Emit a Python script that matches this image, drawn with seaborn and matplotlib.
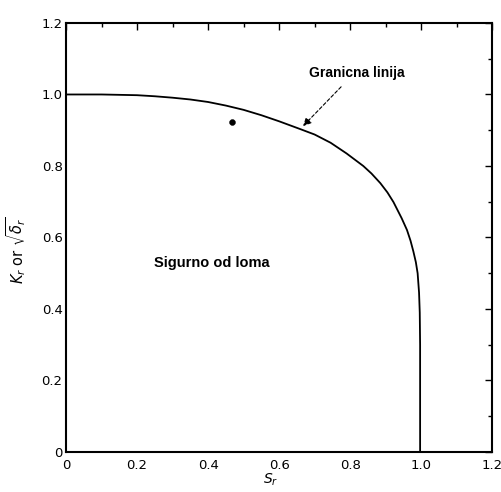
import pandas as pd
import matplotlib
matplotlib.use("Agg")
import matplotlib.pyplot as plt
import seaborn as sns

# --- podaci ocitani sa slike ---
sr = [0.0, 0.1, 0.2, 0.25, 0.3, 0.35, 0.4, 0.45, 0.5, 0.55, 0.6, 0.66,
      0.7, 0.745, 0.79, 0.837, 0.86, 0.885, 0.905, 0.922, 0.945, 0.96,
      0.97, 0.978, 0.985, 0.99, 0.994, 0.996, 0.997, 0.997]
kr = [1.0, 1.0, 0.998, 0.995, 0.991, 0.986, 0.979, 0.969, 0.957, 0.942,
      0.925, 0.903, 0.888, 0.865, 0.835, 0.800, 0.779, 0.752, 0.726, 0.699,
      0.654, 0.621, 0.591, 0.561, 0.531, 0.50, 0.446, 0.39, 0.3, 0.0]

tocka_sr = [0.468]
tocka_kr = [0.923]

tick_vals = [0, 0.2, 0.4, 0.6, 0.8, 1.0, 1.2]
tick_labels = ["0", "0.2", "0.4", "0.6", "0.8", "1.0", "1.2"]

sns.set_theme(style="white")
plt.rcParams['font.family'] = ['DejaVu Sans']
plt.rcParams['text.color'] = 'black'

df = pd.DataFrame({"Sr": sr, "Kr": kr})

fig = plt.figure(figsize=(5.02, 4.92), dpi=100)
ax = fig.add_axes([0.1315, 0.0813, 0.849, 0.872])

sns.lineplot(data=df, x="Sr", y="Kr", sort=False, estimator=None,
             color="black", linewidth=1.3, ax=ax)
sns.scatterplot(x=tocka_sr, y=tocka_kr, color="black", s=18,
                edgecolor="black", ax=ax)

ax.set_xlim(0, 1.2)
ax.set_ylim(0, 1.2)
ax.set_xticks(tick_vals)
ax.set_xticklabels(tick_labels)
ax.set_yticks(tick_vals)
ax.set_yticklabels(tick_labels)
ax.set_xticks([0.1, 0.3, 0.5, 0.7, 0.9, 1.1], minor=True)
ax.set_yticks([0.1, 0.3, 0.5, 0.7, 0.9, 1.1], minor=True)

ax.tick_params(which="both", direction="in", top=True, right=True,
               colors="black", width=1.0)
ax.tick_params(which="major", length=5, labelsize=9.5)
ax.tick_params(which="minor", length=3)
ax.tick_params(axis="y", which="major", pad=2.5)
ax.tick_params(axis="x", which="major", pad=5)

for s in ax.spines.values():
    s.set_color("black")
    s.set_linewidth(1.5)

ax.set_xlabel(r"$S_r$", fontsize=10, color="black")
ax.xaxis.set_label_coords(0.48, -0.045)
ax.set_ylabel(r"$K_r$ or $\sqrt{\delta_r}$", fontsize=10.5, color="black")
ax.yaxis.set_label_coords(-0.09, 0.47)

ax.text(0.82, 1.06, "Granicna linija", family=["Liberation Sans", "DejaVu Sans"],
        fontsize=10, fontweight="bold", ha="center", va="center", color="black")
ax.text(0.248, 0.529, "Sigurno od loma", family=["Liberation Sans", "DejaVu Sans"],
        fontsize=10.5, fontweight="bold", ha="left", va="center", color="black")

ax.annotate("", xy=(0.662, 0.906), xytext=(0.78, 1.027),
            arrowprops=dict(arrowstyle="-|>", color="black", lw=0.8,
                            linestyle=(0, (3, 2)), mutation_scale=12))

fig.savefig("out.png", dpi=100)
plt.close(fig)
